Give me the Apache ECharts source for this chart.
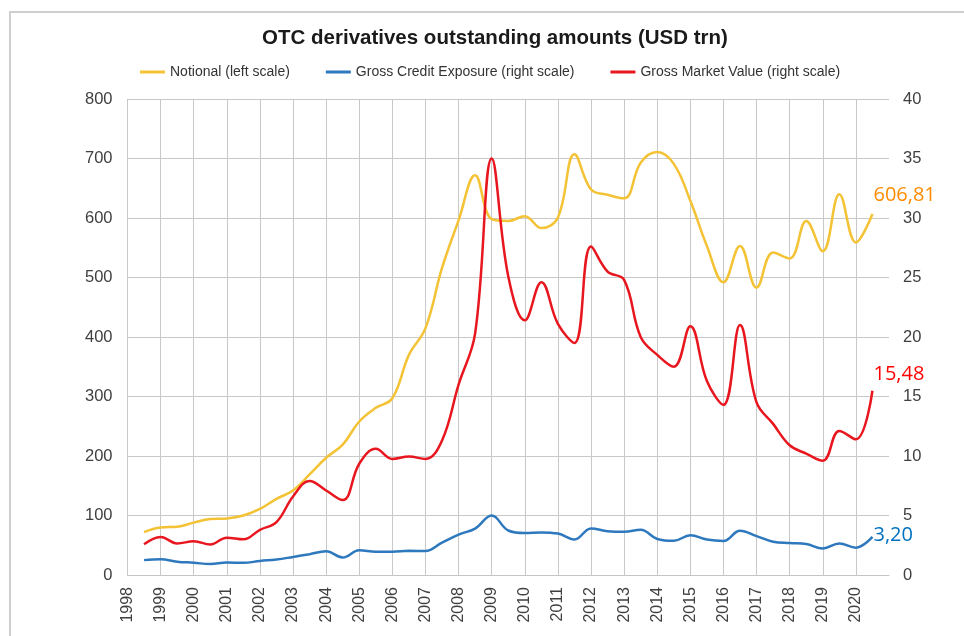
<!DOCTYPE html>
<html>
<head>
<meta charset="utf-8">
<script src="https://cdn.jsdelivr.net/npm/echarts@6/dist/echarts.min.js"></script>
<style>
html,body{margin:0;padding:0;background:#fff;}
#chart{width:964px;height:636px;}
</style>
</head>
<body>
<div id="chart"></div>
<script>
// Periods (end-June = x.5, end-December plotted at next year's gridline)
var periods = [1998.5, 1999, 1999.5, 2000, 2000.5, 2001, 2001.5, 2002, 2002.5, 2003,
  2003.5, 2004, 2004.5, 2005, 2005.5, 2006, 2006.5, 2007, 2007.5, 2008,
  2008.5, 2009, 2009.5, 2010, 2010.5, 2011, 2011.5, 2012, 2012.5, 2013,
  2013.5, 2014, 2014.5, 2015, 2015.5, 2016, 2016.5, 2017, 2017.5, 2018,
  2018.5, 2019, 2019.5, 2020, 2020.5];

// Notional (left scale), USD trn
var notional = [72, 80, 81, 88, 94, 95, 100, 111, 128, 142,
  169, 197, 219, 258, 281, 297, 370, 415, 516, 596,
  672, 598, 595, 603, 583, 601, 707, 648, 639, 633,
  693, 711, 691, 629, 553, 492, 553, 483, 542, 532,
  595, 544, 640, 559, 606.81];

// Gross Credit Exposure (right scale), USD trn
var grossCredit = [1.25, 1.33, 1.12, 1.03, 0.92, 1.05, 1.02, 1.18, 1.30, 1.52,
  1.75, 2.00, 1.47, 2.08, 1.95, 1.95, 2.03, 2.02, 2.72, 3.40,
  3.90, 5.00, 3.74, 3.52, 3.58, 3.48, 2.98, 3.91, 3.68, 3.63,
  3.80, 3.03, 2.87, 3.34, 2.98, 2.86, 3.72, 3.27, 2.80, 2.68,
  2.60, 2.23, 2.65, 2.30, 3.20];

// Gross Market Value (right scale), USD trn
var grossMarket = [2.58, 3.20, 2.65, 2.84, 2.56, 3.14, 3.00, 3.80, 4.45, 6.60,
  7.90, 7.10, 6.30, 9.35, 10.60, 9.75, 9.95, 9.75, 11.30, 16.00,
  20.30, 35.00, 25.10, 21.40, 24.60, 21.10, 19.50, 27.60, 25.50, 24.80,
  20.00, 18.50, 17.50, 20.90, 16.30, 14.30, 21.00, 14.50, 12.70, 10.90,
  10.20, 9.60, 12.10, 11.40, 15.48];

var yearTicks = [1998, 1999, 2000, 2001, 2002, 2003, 2004, 2005, 2006, 2007, 2008, 2009,
  2010, 2011, 2012, 2013, 2014, 2015, 2016, 2017, 2018, 2019, 2020];

var seriesNames = ['Notional (left scale)', 'Gross Credit Exposure (right scale)', 'Gross Market Value (right scale)'];

function pairs(vals) {
  return vals.map(function (v, i) { return [periods[i], v]; });
}
function comma(v) { return v.toFixed(2).replace('.', ','); }

var chart = echarts.init(document.getElementById('chart'), null, {renderer: 'canvas'});
var narrow = '"Liberation Sans Narrow", "Liberation Sans", Arial, sans-serif';
var labelFont = '"Liberation Sans", Arial, sans-serif';

chart.setOption({
  animation: false,
  backgroundColor: '#ffffff',
  graphic: [
    {type: 'rect', shape: {x: 10, y: 12, width: 980, height: 660},
     style: {fill: 'none', stroke: '#cfcfcf', lineWidth: 2}, silent: true, z: -10},
    {type: 'text', x: 495, y: 38,
     style: {text: 'OTC derivatives outstanding amounts (USD trn)', textAlign: 'center', textVerticalAlign: 'middle',
       font: 'bold 20.5px ' + narrow, fill: '#1a1a1a'}}
  ],
  legend: {
    data: seriesNames,
    left: 140, top: 65,
    itemWidth: 25, itemHeight: 3, itemGap: 36,
    icon: 'rect',
    textStyle: {fontFamily: narrow, fontSize: 14, color: '#333'},
    padding: 0
  },
  grid: {left: 127.5, right: 75, top: 99, bottom: 61, containLabel: false},
  xAxis: {
    type: 'value', min: 1998, max: 2021, interval: 1,
    axisLine: {show: true, lineStyle: {color: '#c4c4c4', width: 1}},
    axisTick: {show: false},
    splitLine: {show: true, showMaxLine: false, lineStyle: {color: '#c8c8c8', width: 1}},
    axisLabel: {
      rotate: 90, margin: 12, fontSize: 16, color: '#404040', fontFamily: labelFont,
      formatter: function (v) { return yearTicks.indexOf(v) >= 0 ? String(v) : ''; }
    }
  },
  yAxis: [
    {type: 'value', min: 0, max: 800, interval: 100, position: 'left',
     axisLine: {show: false}, axisTick: {show: false},
     splitLine: {show: true, lineStyle: {color: '#c8c8c8', width: 1}},
     axisLabel: {margin: 15, fontSize: 16.5, color: '#404040', fontFamily: labelFont}},
    {type: 'value', min: 0, max: 40, interval: 5, position: 'right',
     axisLine: {show: false}, axisTick: {show: false}, splitLine: {show: false},
     axisLabel: {margin: 14, fontSize: 16.5, color: '#404040', fontFamily: labelFont}}
  ],
  series: [
    {name: seriesNames[0], type: 'line', yAxisIndex: 0, data: pairs(notional),
     smooth: 0.4, showSymbol: false, symbol: 'none',
     lineStyle: {color: '#F4C235', width: 2.5}, itemStyle: {color: '#F4C235'}, z: 3,
     endLabel: {show: true, distance: 0, offset: [1, -19], fontSize: 20, fontFamily: '"Open Sans", sans-serif',
       color: '#FF8C00', formatter: function (p) { return comma(p.value[1]); }}},
    {name: seriesNames[1], type: 'line', yAxisIndex: 1, data: pairs(grossCredit),
     smooth: 0.4, showSymbol: false, symbol: 'none',
     lineStyle: {color: '#2E78BE', width: 2.5}, itemStyle: {color: '#2E78BE'}, z: 4,
     endLabel: {show: true, distance: 0, offset: [1, -2], fontSize: 20, fontFamily: '"Open Sans", sans-serif',
       color: '#0070C0', formatter: function (p) { return comma(p.value[1]); }}},
    {name: seriesNames[2], type: 'line', yAxisIndex: 1, data: pairs(grossMarket),
     smooth: 0.4, showSymbol: false, symbol: 'none',
     lineStyle: {color: '#E8161E', width: 2.5}, itemStyle: {color: '#E8161E'}, z: 5,
     endLabel: {show: true, distance: 0, offset: [1, -16], fontSize: 20, fontFamily: '"Open Sans", sans-serif',
       color: '#FF0000', formatter: function (p) { return comma(p.value[1]); }}}
  ]
});
</script>
</body>
</html>
